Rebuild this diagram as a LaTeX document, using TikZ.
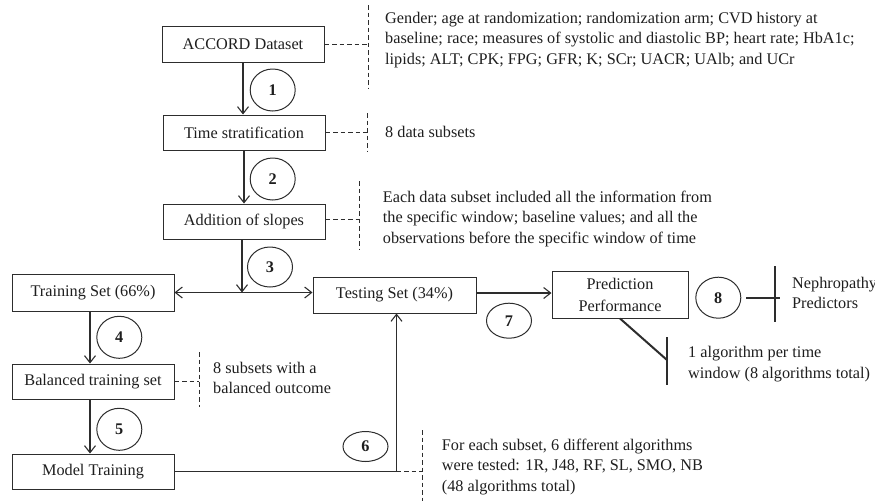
\documentclass[tikz,border=0pt]{standalone}
\usepackage{fontspec}
\setmainfont{Liberation Serif}
\usetikzlibrary{arrows.meta,shapes.geometric}
\definecolor{ln}{RGB}{45,45,45}
\definecolor{tx}{RGB}{30,30,30}
\begin{document}
\begin{tikzpicture}[x=1pt,y=-1pt,
  every node/.style={font=\fontsize{16.25pt}{20.5pt}\selectfont, text=tx},
  box/.style={draw=ln, line width=1pt, minimum width=162pt, minimum height=35pt, inner sep=0pt},
  num/.style={draw=ln, line width=1pt, ellipse, minimum width=45pt, minimum height=42pt, inner sep=0pt, font=\fontsize{16.25pt}{20.5pt}\selectfont\bfseries},
  note/.style={anchor=west, align=left, inner sep=0pt},
  arr/.style={draw=ln, line width=1.1pt, -{Straight Barb[length=7pt,width=11pt]}},
  darr/.style={draw=ln, line width=1.1pt, {Straight Barb[length=7pt,width=11pt]}-{Straight Barb[length=7pt,width=11pt]}},
  dsh/.style={draw=ln, line width=1pt, dash pattern=on 4.5pt off 3pt},
  thk/.style={draw=ln, line width=2pt},
]
\useasboundingbox (0,0) rectangle (875,501);

% boxes
\node[box, minimum height=36pt] (acc) at (243,44) {ACCORD Dataset};
\node[box] (time) at (244,132.5) {Time stratification};
\node[box] (slopes) at (244,221.5) {Addition of slopes};
\node[box, minimum height=37pt] (train) at (93,292.5) {Training Set (66\%)};
\node[box] (bal) at (93,381.5) {Balanced training set};
\node[box] (model) at (93,471.5) {Model Training};
\node[box, minimum width=163pt, minimum height=36pt] (test) at (394.5,295) {Testing Set (34\%)};
\node[box, minimum width=136pt, minimum height=47pt, align=center, font=\fontsize{16.25pt}{22pt}\selectfont] (pred) at (620,294.5) {Prediction\\Performance};

% step numbers
\node[num] (n1) at (272.7,90) {1};
\node[num] (n2) at (272.7,179) {2};
\node[num, minimum height=40pt] (n3) at (270,267) {3};
\node[num] (n4) at (119.3,337.3) {4};
\node[num] (n5) at (119.3,429.3) {5};
\node[num, minimum height=30pt] (n6) at (365.5,446.5) {6};
\node[num, minimum height=35pt] (n7) at (509,320.7) {7};
\node[num, minimum height=41pt] (n8) at (718.3,297.7) {8};

% main flow
\draw[arr] (acc.south) -- (acc.south |- time.north);
\draw[arr] (time.south) -- (slopes.north);
\coordinate (split) at ([xshift=-2pt]slopes.south |- train.east);
\draw[arr] ([xshift=-2pt]slopes.south) -- (split);
\draw[darr] (train.east) -- (train.east -| test.west);
\draw[arr] ([xshift=-3pt]train.south) -- ([xshift=-3pt]bal.north);
\draw[arr] ([xshift=-3pt]bal.south) -- ([xshift=-3pt]model.north);
\coordinate (corner) at ([xshift=2pt]test.south |- model.east);
\draw[arr] (model.east) -- (corner) -- ([xshift=2pt]test.south);
\draw[arr] ([yshift=2pt]test.east) -- ([yshift=2pt]test.east -| pred.west);

% dashed annotation brackets
\coordinate (aT) at (368,5);   \coordinate (aB) at (368,88);
\draw[dsh] (acc.east) -- (acc.east -| aT);  \draw[dsh] (aT) -- (aB);
\coordinate (tiT) at (367,113); \coordinate (tiB) at (367,152);
\draw[dsh] (time.east) -- (time.east -| tiT); \draw[dsh] (tiT) -- (tiB);
\coordinate (sT) at (359,181); \coordinate (sB) at (359,250);
\draw[dsh] ([yshift=2pt]slopes.east) -- ([yshift=2pt]slopes.east -| sT); \draw[dsh] (sT) -- (sB);
\coordinate (bT) at (199,352); \coordinate (bB) at (199,407);
\draw[dsh] (bal.east) -- (bal.east -| bT); \draw[dsh] (bT) -- (bB);
\coordinate (mT) at (422.7,430); \coordinate (mB) at (422.7,501);
\draw[dsh] (corner) -- (corner -| mT); \draw[dsh] (mT) -- (mB);

% solid bars
\coordinate (nT) at (775,266); \coordinate (nB) at (775,322);
\draw[thk] ([xshift=5pt]n8.east) -- ([xshift=5pt]n8.east -| nT); \draw[thk] (nT) -- (nB);
\coordinate (dT) at (667,337); \coordinate (dB) at (667,385); \coordinate (dM) at (667,360);
\draw[thk] (pred.south) -- (dM); \draw[thk] (dT) -- (dB);

% annotation texts
\node[note] (txA) at (385,40) {Gender; age at randomization; randomization arm; CVD history at\\baseline; race; measures of systolic and diastolic BP; heart rate; HbA1c;\\lipids; ALT; CPK; FPG; GFR; K; SCr; UACR; UAlb; and UCr};
\node[note] (txT) at (385,132) {8 data subsets};
\node[note] (txS) at (382.7,219) {Each data subset included all the information from\\the specific window; baseline values; and all the\\observations before the specific window of time};
\node[note] (txB) at (213,378) {8 subsets with a\\balanced outcome};
\node[note] (txN) at (792,293) {Nephropathy\\Predictors};
\node[note] (txP) at (688,364) {1 algorithm per time\\window (8 algorithms total)};
\node[note] (txM) at (441.7,466.7) {For each subset, 6 different algorithms\\were tested: 1R, J48, RF, SL, SMO, NB\\(48 algorithms total)};
\end{tikzpicture}
\end{document}
